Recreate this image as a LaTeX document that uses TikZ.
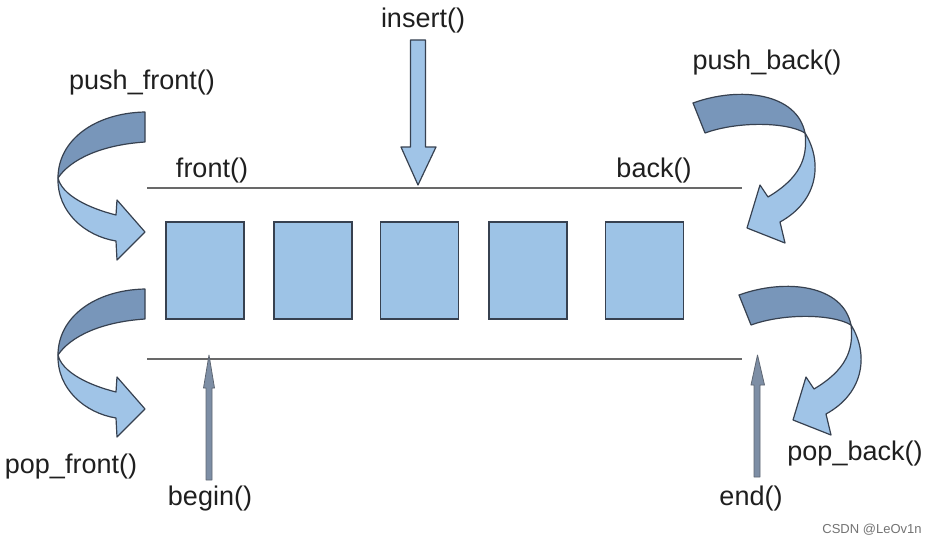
\documentclass[tikz,border=0pt]{standalone}
\usepackage{fontspec}
\setmainfont{Liberation Sans}
\definecolor{boxfill}{RGB}{157,195,230}
\definecolor{lightband}{RGB}{160,196,231}
\definecolor{darkband}{RGB}{120,150,186}
\definecolor{edgec}{RGB}{55,65,80}
\definecolor{thinfill}{RGB}{125,142,165}
\definecolor{railc}{RGB}{105,105,105}
\begin{document}
\begin{tikzpicture}[x=1pt,y=-1pt,
  cell/.style={draw=edgec,line width=1.4pt,fill=boxfill,minimum width=78pt,minimum height=97pt,inner sep=0pt},
  lbl/.style={font=\fontsize{27}{31}\selectfont,text=black!88,inner sep=0pt,anchor=base},
  lightpart/.style={draw=edgec,line width=1.2pt,fill=lightband,line join=round},
  darkpart/.style={draw=edgec,line width=1.2pt,fill=darkband,line join=round},
  thinarrow/.style={draw=edgec!80,line width=0.8pt,fill=thinfill,line join=round},
  rail/.style={draw=railc,line width=2.4pt}]
\useasboundingbox (0,0) rectangle (927,543);
\fill[white] (0,0) rectangle (927,543);

% rails
\coordinate (tl) at (147,188);
\coordinate (tr) at (742,188);
\coordinate (bl) at (147,359);
\coordinate (br) at (742,359);
\draw[rail] (tl) -- (tr);
\draw[rail] (bl) -- (br);

% cells
\node[cell] (c1) at (205,270.5) {};
\node[cell] (c2) at (313,270.5) {};
\node[cell] (c3) at (419.5,270.5) {};
\node[cell] (c4) at (528,270.5) {};
\node[cell] (c5) at (644.5,270.5) {};

% labels
\node[lbl] (pushfront) at (142,90) {push\_front()};
\node[lbl] (insert) at (423,28) {insert()};
\node[lbl] (pushback) at (767,70) {push\_back()};
\node[lbl] (front) at (212,177) {front()};
\node[lbl] (back) at (654,177) {back()};
\node[lbl] (popfront) at (71,473) {pop\_front()};
\node[lbl] (begin) at (210,505) {begin()};
\node[lbl] (end) at (751,505) {end()};
\node[lbl] (popback) at (855,460) {pop\_back()};
\node[font=\fontsize{13}{15}\selectfont,text=black!55,inner sep=0pt,anchor=base] (csdn) at (872,533) {CSDN @LeOv1n};

% insert arrow
\draw[lightpart] (410.5,40) -- (425.5,40) -- (425.5,147) -- (436,147) -- (418,185)
  -- (401,147) -- (410.5,147) -- cycle;

% begin / end thin arrows
\draw[thinarrow] (206,480) -- (212,480) -- (212,388) -- (214.5,388) -- (209,355)
  -- (203.5,388) -- (206,388) -- cycle;
\draw[thinarrow] (754,477) -- (760,477) -- (760,385) -- (764.5,385) -- (757.5,355)
  -- (751,385) -- (754,385) -- cycle;

% push_front / pop_front curved arrows
\foreach \dy in {0,177}{
\begin{scope}[yshift=-\dy pt]
\draw[darkpart] (145,112) .. controls (95,113) and (58,140) .. (58,178)
  .. controls (70,160) and (100,145) .. (145,142) -- cycle;
\draw[lightpart] (58,178) .. controls (57,212) and (85,236) .. (116,241)
  -- (117,260) -- (145,232) -- (117,200) -- (116,215)
  .. controls (88,208) and (62,195) .. (58,178) -- cycle;
\end{scope}
}

% push_back / pop_back curved arrows
\foreach \dx/\dy in {0/0,46/192}{
\begin{scope}[xshift=\dx pt,yshift=-\dy pt]
\draw[darkpart] (693,103) .. controls (740,86) and (797,93) .. (805,133)
  .. controls (787,122) and (738,121) .. (705,133) -- cycle;
\draw[lightpart] (805,133) .. controls (822,160) and (820,200) .. (780,222)
  -- (785,243) -- (747,228) -- (760,185) -- (768,197)
  .. controls (800,178) and (808,158) .. (805,133) -- cycle;
\end{scope}
}
\end{tikzpicture}
\end{document}
